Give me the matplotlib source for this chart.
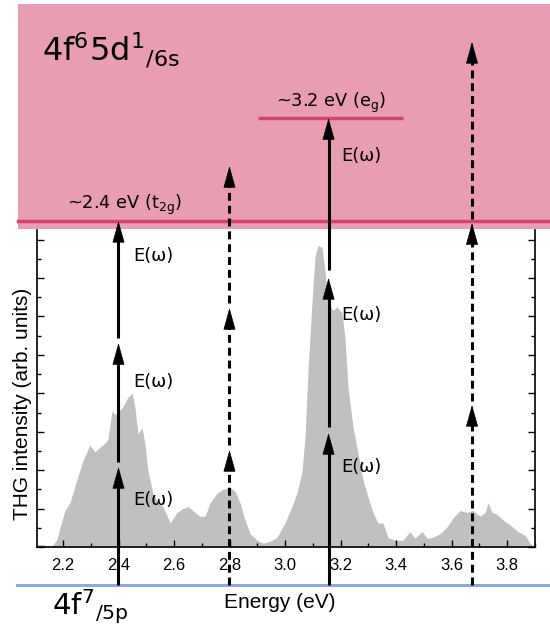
import numpy as np
import matplotlib
matplotlib.use("Agg")
import matplotlib.pyplot as plt
from matplotlib.ticker import MultipleLocator

plt.rcParams['font.family'] = ['Liberation Sans', 'DejaVu Sans']
plt.rcParams['mathtext.fontset'] = 'dejavusans'
plt.rcParams['mathtext.default'] = 'regular'

# THG spectrum (energy in eV, intensity in tick units)
energy = [2.106, 2.135, 2.153, 2.164, 2.178, 2.189, 2.207, 2.225, 2.250, 2.272,
          2.297, 2.315, 2.333, 2.351, 2.362, 2.377, 2.387, 2.398, 2.416, 2.434,
          2.449, 2.459, 2.470, 2.485, 2.495, 2.506, 2.524, 2.542, 2.560, 2.586,
          2.611, 2.632, 2.650, 2.668, 2.694, 2.712, 2.730, 2.755, 2.777, 2.802,
          2.820, 2.838, 2.856, 2.874, 2.899, 2.921, 2.946, 2.971, 3.000, 3.025,
          3.043, 3.061, 3.072, 3.083, 3.097, 3.108, 3.119, 3.133, 3.144, 3.155,
          3.173, 3.187, 3.205, 3.216, 3.227, 3.245, 3.263, 3.281, 3.299, 3.317,
          3.335, 3.353, 3.371, 3.396, 3.425, 3.450, 3.468, 3.494, 3.512, 3.533,
          3.559, 3.584, 3.605, 3.631, 3.656, 3.677, 3.703, 3.721, 3.732, 3.746,
          3.764, 3.786, 3.811, 3.840, 3.865, 3.883, 3.894]
intensity = [0.15, 0.1, 0.0, 0.1, 0.4, 1.0, 1.9, 2.3, 3.5, 4.5,
             5.3, 4.95, 5.2, 5.4, 5.6, 7.1, 6.9, 7.0, 7.3, 7.8,
             8.0, 7.3, 5.9, 6.2, 5.4, 4.0, 2.8, 2.3, 2.1, 1.25,
             1.8, 2.0, 2.1, 1.9, 1.6, 1.6, 2.3, 2.8, 3.0, 3.1,
             2.9, 2.3, 1.4, 0.7, 0.35, 0.2, 0.3, 0.5, 1.25, 2.1,
             2.8, 3.9, 5.7, 9.2, 12.7, 15.1, 15.7, 15.6, 14.4, 12.7,
             12.3, 12.5, 12.2, 10.9, 8.3, 6.25, 4.9, 3.5, 2.6, 1.8,
             1.25, 1.25, 0.5, 0.35, 0.35, 0.8, 0.45, 0.8, 0.45, 0.5,
             0.7, 1.05, 1.5, 1.9, 1.8, 1.9, 1.6, 1.8, 2.3, 1.8,
             1.7, 1.4, 1.15, 0.8, 0.6, 0.2, 0.0]

# schematic levels (drawn energy units)
ground = 0.0
t2g = 2.4
eg = 3.078
band_lo, band_hi = 2.347, 3.83

# arrows: x position, (start, tip) of each photon, dashed?
arrow_x = [2.40, 2.80, 3.157, 3.674]
arrow_segs = [[(0.0, 0.778), (0.811, 1.595), (1.628, 2.4)],
              [(0.0, 0.89), (0.92, 1.826), (1.86, 2.762)],
              [(0.0, 1.002), (1.04, 2.024), (2.076, 3.078)],
              [(0.0, 1.187), (1.21, 2.386), (2.41, 3.58)]]
arrow_dashed = [False, True, False, True]

ew_x = [2.452, 2.452, 2.452, 3.202, 3.202, 3.202]
ew_y = [2.169, 1.338, 0.560, 2.828, 1.780, 0.778]

pink = '#e89db2'
magenta = '#d4426f'
blue = '#8eaadb'

fig = plt.figure(figsize=(5.5, 6.26), dpi=100)

ax = fig.add_axes([37 / 550, 79 / 626, 498 / 550, 317 / 626])
ax.fill_between(energy, intensity, color='#c0c0c0', lw=0)
ax.set_xlim(2.1063, 3.9009)
ax.set_ylim(0, 16.5)
ax.xaxis.set_minor_locator(MultipleLocator(0.1))
ax.yaxis.set_major_locator(MultipleLocator(2))
ax.yaxis.set_minor_locator(MultipleLocator(1))
ax.tick_params(which='both', direction='in', right=True, width=1)
ax.tick_params(which='major', length=5, pad=8, labelsize=12)
ax.tick_params(which='minor', length=2.8)
ax.tick_params(axis='y', labelleft=False)
ax.set_xticks(np.arange(2.2, 3.81, 0.2))
ax.set_xticklabels(['%.1f' % v for v in np.arange(2.2, 3.81, 0.2)])
for s in ax.spines.values():
    s.set_linewidth(1.2)
ax.spines['top'].set_visible(False)

fig.text(23 / 550, 1 - 404 / 626, 'THG intensity (arb. units)', rotation=90,
         ha='center', va='center', fontsize=15)
fig.text(280 / 550, 1 - 603 / 626, 'Energy (eV)', ha='center', va='center',
         fontsize=15)

# overlay for the level scheme
ov = fig.add_axes([0, 0, 1, 1], zorder=5)
ov.set_xlim(1.973, 3.955)
ov.set_ylim(-0.2703, 3.8563)
ov.axis('off')
ov.patch.set_alpha(0)

ov.axhspan(band_lo, band_hi, xmin=18 / 550, xmax=1, color=pink, lw=0)
ov.axhline(t2g, xmin=18 / 550, xmax=1, color=magenta, lw=2.5)
ov.hlines(eg, 2.903, 3.425, color=magenta, lw=2.5)
ov.axhline(ground, xmin=17 / 550, xmax=1, color=blue, lw=2.2)

head = 0.132
for x, segs, dashed in zip(arrow_x, arrow_segs, arrow_dashed):
    for y0, y1 in segs:
        ls = (0, (2.6, 1.6)) if dashed else '-'
        ov.plot([x, x], [y0, y1 - head], color='k', lw=2.2, ls=ls,
                solid_capstyle='butt', dash_capstyle='butt')
        ov.annotate('', xy=(x, y1), xytext=(x, y1 - head),
                    arrowprops=dict(arrowstyle='-|>,head_length=0.72,head_width=0.2',
                                    mutation_scale=20, color='k', lw=0.5,
                                    shrinkA=0, shrinkB=0))

for x, y in zip(ew_x, ew_y):
    ov.text(x, y, 'E(ω)', fontsize=13, family='DejaVu Sans', ha='left',
            va='center')

ov.text(3.166, 3.151, r'~3.2 eV (e$_g$)', fontsize=12.8, family='DejaVu Sans',
        ha='center', va='baseline')
ov.text(2.214, 2.479, r'~2.4 eV (t$_{2g}$)', fontsize=12.8, family='DejaVu Sans',
        ha='left', va='baseline')
ov.text(2.124, 3.461, r'4f$^6$5d$^1$$_{/6s}$', fontsize=23,
        family='DejaVu Sans', ha='left', va='baseline')
ov.text(2.160, -0.198, r'4f$^7$$_{/5p}$', fontsize=21, family='DejaVu Sans',
        ha='left', va='baseline')

fig.savefig('out.png', dpi=100)
